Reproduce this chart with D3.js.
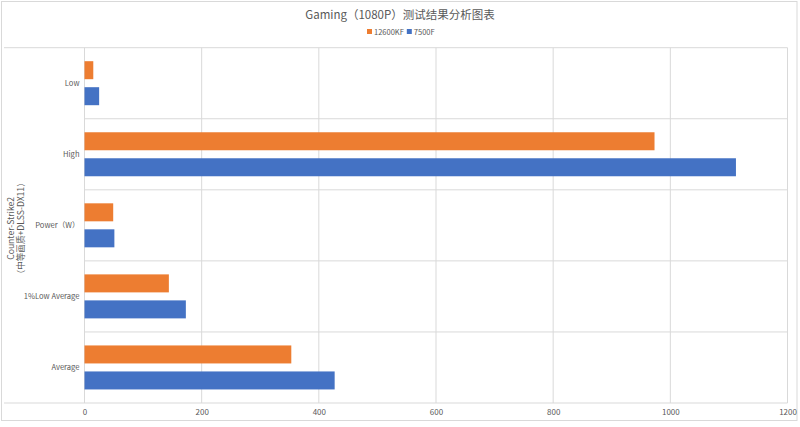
<!DOCTYPE html>
<html><head><meta charset="utf-8">
<script src="https://cdn.jsdelivr.net/npm/d3@7"></script>
<style>
html,body{margin:0;padding:0;background:#fff;}
text{font-family:"Noto Sans CJK SC","Noto Sans",sans-serif;fill:#595959;}
</style></head>
<body>
<svg id="chart" width="800" height="427"></svg>
<script>
const title = "Gaming（1080P）测试结果分析图表";
const groupLabel = ["Counter-Strike2", "（中等画质+DLSS-DX11）"];
const categories = ["Low", "High", "Power（W）", "1%Low Average", "Average"];
const seriesNames = ["12600KF", "7500F"];
const values12600KF = [15, 973, 49, 144, 353];
const values7500F = [25, 1112, 51, 173, 427];
const xTicks = [0, 200, 400, 600, 800, 1000, 1200];
const colors = ["#ED7D31", "#4472C4"];

const svg = d3.select("#chart");
const plot = {left: 84.5, right: 787.5, top: 47.7, bottom: 403};
const grid = "#D9D9D9";
const FONT = '"Noto Sans CJK SC","Noto Sans",sans-serif';

svg.append("rect").attr("x", 1.5).attr("y", 1.5).attr("width", 795.5).attr("height", 419)
  .attr("fill", "#fff").attr("stroke", grid).attr("stroke-width", 1);

const x = d3.scaleLinear().domain([0, 1200]).range([plot.left, plot.right]);
const y0 = d3.scaleBand().domain(categories).range([plot.top, plot.bottom]).paddingInner(0).paddingOuter(0);
const y1 = d3.scaleBand().domain(seriesNames).range([13.5, 57.5]).paddingInner(0.3077).paddingOuter(0);

svg.append("g").selectAll("line").data(xTicks).join("line")
  .attr("x1", d => x(d)).attr("x2", d => x(d))
  .attr("y1", plot.top).attr("y2", plot.bottom)
  .attr("stroke", grid).attr("stroke-width", 1);

const seps = categories.slice(1).map(c => y0(c));
svg.append("g").selectAll("line").data(seps).join("line")
  .attr("x1", plot.left).attr("x2", plot.right)
  .attr("y1", d => d).attr("y2", d => d)
  .attr("stroke", grid).attr("stroke-width", 1);

[plot.top, plot.bottom].forEach(yy => {
  svg.append("line").attr("x1", 4).attr("x2", plot.right).attr("y1", yy).attr("y2", yy)
    .attr("stroke", grid).attr("stroke-width", 1);
});

const data = categories.map((c, i) => ({cat: c, vals: [values12600KF[i], values7500F[i]]}));
const g = svg.append("g");
data.forEach(d => {
  d.vals.forEach((v, si) => {
    g.append("rect")
      .attr("x", x(0))
      .attr("y", y0(d.cat) + y1(seriesNames[si]))
      .attr("width", x(v) - x(0))
      .attr("height", y1.bandwidth())
      .attr("fill", colors[si]);
  });
});

const xAxis = d3.axisBottom(x).tickValues(xTicks).tickFormat(d3.format("d")).tickSize(0).tickPadding(6);
const ax = svg.append("g").attr("transform", `translate(0,${plot.bottom})`).call(xAxis);
ax.select(".domain").remove();
ax.selectAll("text").style("font-size", "8px").attr("fill", "#595959").style("font-family", FONT);

const yAxis = d3.axisLeft(y0).tickSize(0).tickPadding(5);
const ay = svg.append("g").attr("transform", `translate(${plot.left},0)`).call(yAxis);
ay.select(".domain").remove();
ay.selectAll("text").style("font-size", "7.6px").attr("fill", "#595959").style("font-family", FONT);

const gy = (plot.top + plot.bottom) / 2 + 3;
groupLabel.forEach((t, i) => {
  svg.append("text")
    .attr("transform", `translate(${10 + i * 10},${gy}) rotate(-90)`)
    .attr("text-anchor", "middle").attr("dominant-baseline", "central")
    .style("font-size", "8.6px").text(t);
});

svg.append("text").attr("x", 400).attr("y", 14).attr("text-anchor", "middle")
  .attr("dominant-baseline", "central").style("font-size", "11.5px").text(title);

const lg = svg.append("g").attr("transform", "translate(367,31.5)");
let lx = 0;
seriesNames.forEach((s, i) => {
  lg.append("rect").attr("x", lx).attr("y", -2.5).attr("width", 5).attr("height", 5).attr("fill", colors[i]);
  const t = lg.append("text").attr("x", lx + 7).attr("y", 0).attr("dominant-baseline", "central")
    .style("font-size", "7.5px").text(s);
  lx += 7 + t.node().getComputedTextLength() + 3;
});
</script>
</body></html>
